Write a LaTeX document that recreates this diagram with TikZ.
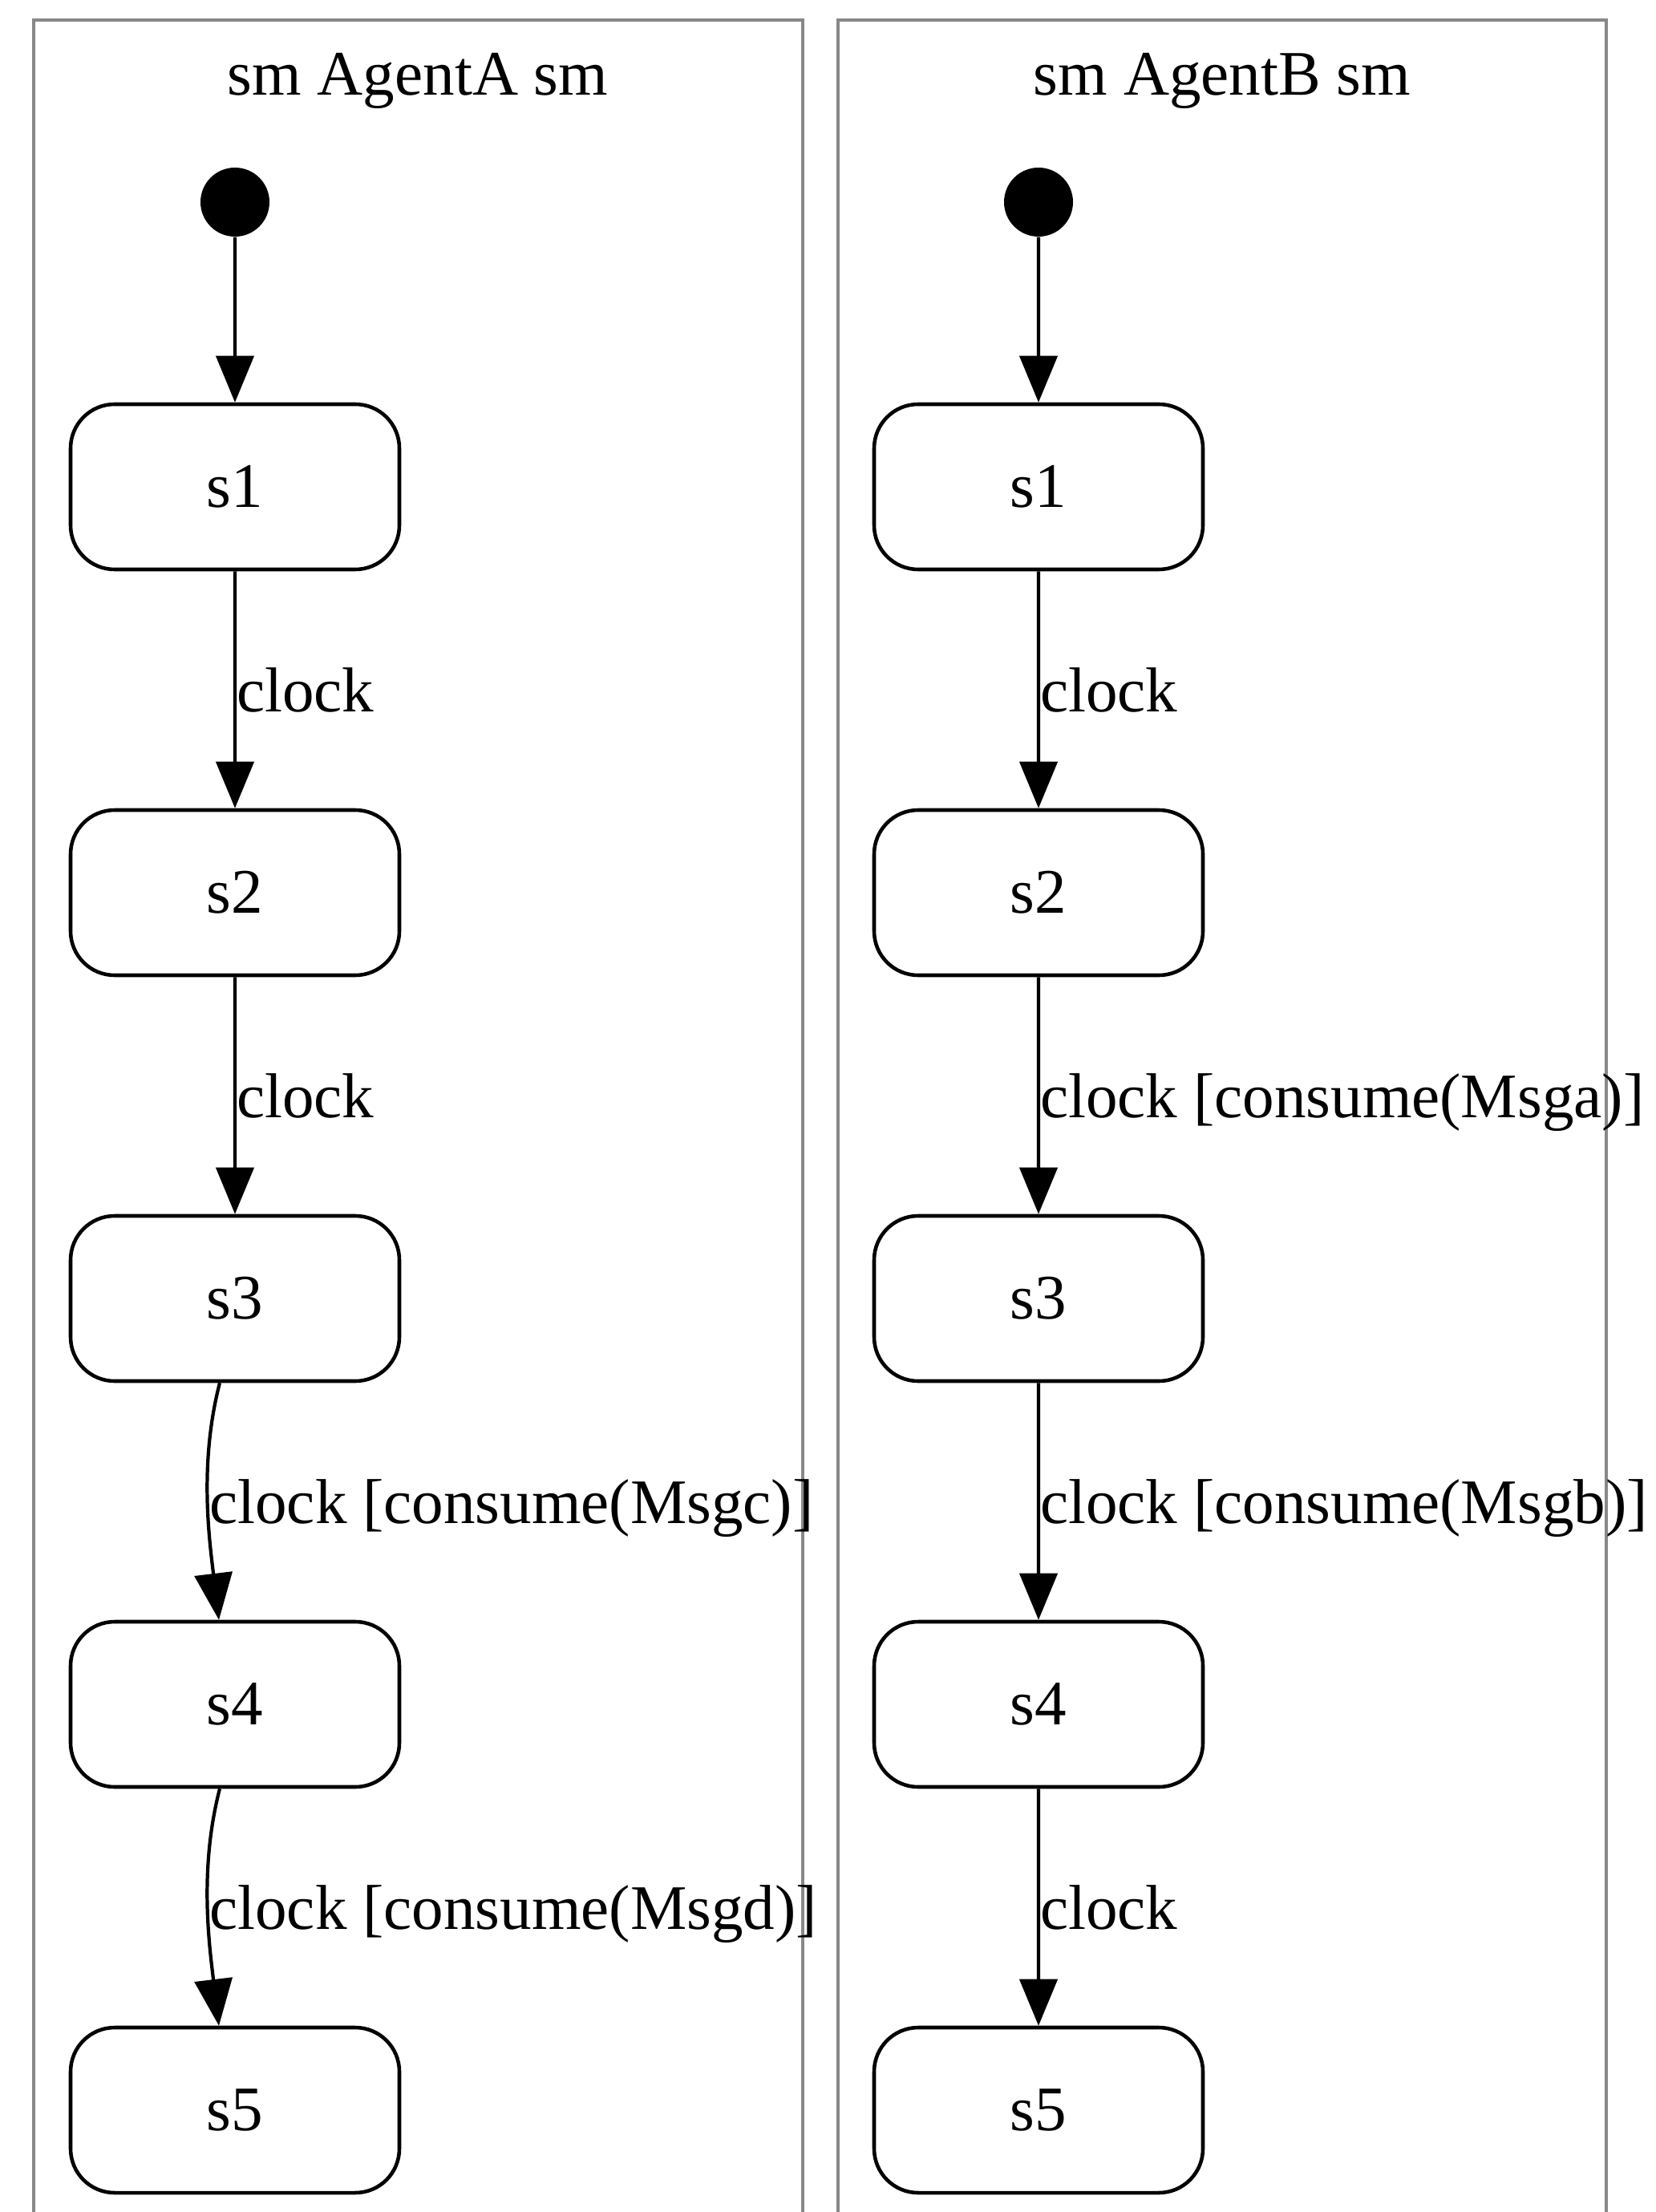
\documentclass[tikz,border=0pt]{standalone}
\usepackage{fontspec}
\setmainfont{Liberation Serif}
\usetikzlibrary{arrows.meta}
\definecolor{framegray}{HTML}{888888}

\begin{document}
\begin{tikzpicture}[font=\fontsize{22.5}{27}\selectfont,
    level 1/.style={level distance=3.55cm}, level 2/.style={level distance=5.06cm},
    state/.style={rectangle, draw, line width=1.3pt, rounded corners=0.55cm, minimum width=4.1cm, minimum height=2.06cm},
    init/.style={circle, fill, inner sep=0pt, minimum size=0.86cm},
    edge from parent/.style={draw, line width=1.2pt, -{Triangle[length=0.58cm, width=0.47cm]}},
    lbl/.style={midway, anchor=west, inner sep=0pt, text depth=0pt},
    bent/.style={edge from parent path={([xshift=-0.19cm]\tikzparentnode.south) .. controls +(-0.26,-1) and +(-0.12,1) .. ([xshift=-0.2cm]\tikzchildnode.north)}}]
    \useasboundingbox (0,0) rectangle (20.65,-27.58);
    \draw[framegray, line width=1pt] (0.42,-27.58) |- (10.01,-0.25) -- (10.01,-27.58);
    \draw[framegray, line width=1pt] (10.45,-27.58) |- (20.03,-0.25) -- (20.03,-27.58);
    \node[anchor=base] (ta) at (5.21,-1.19) {sm AgentA sm};
    \node[anchor=base] (tb) at (15.24,-1.19) {sm AgentB sm};
    \node[init] (a0) at (2.93,-2.52) {}
        child {node[state] (a1) {s1}
            child {node[state] (a2) {s2}
                child {node[state] (a3) {s3}
                    child[bent] {node[state] (a4) {s4}
                        child[bent] {node[state] (a5) {s5}
                            edge from parent node[lbl] {clock [consume(Msgd)]}}
                        edge from parent node[lbl] {clock [consume(Msgc)]}}
                    edge from parent node[lbl] {clock}}
                edge from parent node[lbl] {clock}}
        };
    \node[init] (b0) at (12.95,-2.52) {}
        child {node[state] (b1) {s1}
            child {node[state] (b2) {s2}
                child {node[state] (b3) {s3}
                    child {node[state] (b4) {s4}
                        child {node[state] (b5) {s5}
                            edge from parent node[lbl] {clock}}
                        edge from parent node[lbl] {clock [consume(Msgb)]}}
                    edge from parent node[lbl] {clock [consume(Msga)]}}
                edge from parent node[lbl] {clock}}
        };
\end{tikzpicture}
\end{document}
